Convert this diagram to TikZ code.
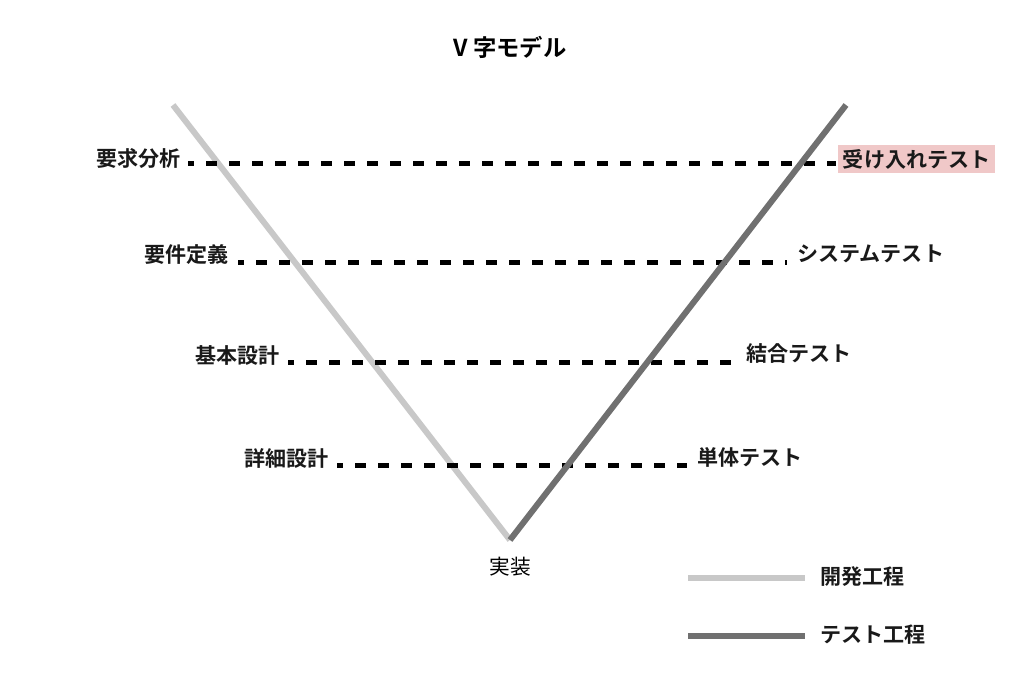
\documentclass[tikz,border=0pt]{standalone}
\usepackage{fontspec}
\newfontfamily\jpb{Noto Sans CJK JP Bold}
\newfontfamily\jpr{Noto Sans CJK JP}
\definecolor{devgray}{RGB}{200,200,200}
\definecolor{testgray}{RGB}{112,112,112}
\definecolor{hipink}{RGB}{240,200,200}
\begin{document}
\begin{tikzpicture}[x=0.75pt,y=-0.75pt,
  lab/.style={font=\jpb\fontsize{15.8pt}{17pt}\selectfont, inner sep=0pt, text=black!90},
  devline/.style={draw=devgray, line width=4.5pt},
  testline/.style={draw=testgray, line width=4.5pt},
  dots/.style={draw=black, line width=3.75pt, dash pattern=on 8.25pt off 9pt, dash phase=3.75pt}]
\useasboundingbox (0,0) rectangle (1020,680);
% title
\node[font=\jpb\fontsize{17.5pt}{19pt}\selectfont] (title) at (510,47) {V 字モデル};
% V vertices
\coordinate (tl) at (173,105);
\coordinate (bot) at (510,540);
\coordinate (tr) at (846,105);
\draw[devline] (tl) -- (bot);
% left labels
\node[lab, anchor=east] (l1) at (181,159) {要求分析};
\node[lab, anchor=east] (l2) at (229,255) {要件定義};
\node[lab, anchor=east] (l3) at (280,355) {基本設計};
\node[lab, anchor=east] (l4) at (329,458) {詳細設計};
% right labels
\node[lab, anchor=west, fill=hipink, inner xsep=3.5pt, inner ysep=3pt, minimum height=20.25pt] (r1) at (838,159) {受け入れテスト};
\node[lab, anchor=west] (r2) at (797,254) {システムテスト};
\node[lab, anchor=west] (r3) at (746,354) {結合テスト};
\node[lab, anchor=west] (r4) at (697,457) {単体テスト};
% dotted rows
\coordinate (a1) at (188,164); \coordinate (b1) at (836,164);
\coordinate (a2) at (238,263); \coordinate (b2) at (787,263);
\coordinate (a3) at (288,363); \coordinate (b3) at (737,363);
\coordinate (a4) at (337,465); \coordinate (b4) at (687,465);
\draw[dots] (a1) -- (b1);
\draw[dots] (a2) -- (b2);
\draw[dots] (a3) -- (b3);
\draw[dots] (a4) -- (b4);
\draw[testline] (bot) -- (tr);
% bottom label
\node[font=\jpr\fontsize{15.5pt}{17pt}\selectfont] (impl) at (510,567) {実装};
% legend
\coordinate (d1) at (688,578); \coordinate (d2) at (805,578);
\coordinate (t1) at (688,636); \coordinate (t2) at (805,636);
\draw[devline] (d1) -- (d2);
\draw[testline] (t1) -- (t2);
\node[lab, anchor=west] (ldev) at (820,577) {開発工程};
\node[lab, anchor=west] (ltest) at (820,635) {テスト工程};
\end{tikzpicture}
\end{document}
